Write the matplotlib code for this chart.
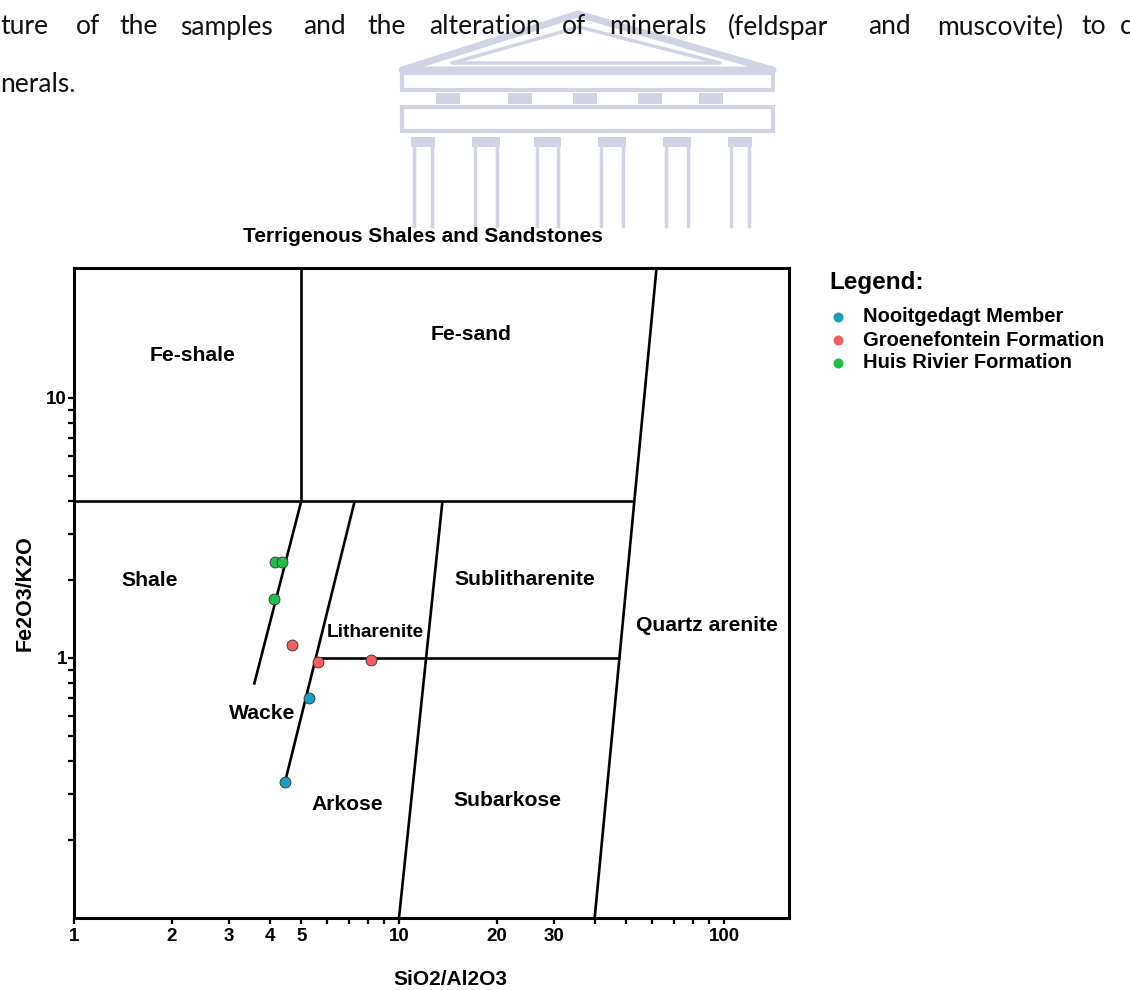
import numpy as np
import matplotlib.pyplot as plt
from matplotlib.lines import Line2D
from matplotlib.patches import Polygon, Rectangle
from matplotlib.ticker import FixedLocator, NullFormatter

# sample ratios: SiO2/Al2O3 (x) against Fe2O3/K2O (y)
nooitgedagt_x = [5.28, 4.46]
nooitgedagt_y = [0.70, 0.333]
groenefontein_x = [4.69, 5.63, 8.2]
groenefontein_y = [1.12, 0.965, 0.98]
huis_rivier_x = [4.15, 4.36, 4.12]
huis_rivier_y = [2.34, 2.35, 1.69]

series = [
    ("Nooitgedagt Member", nooitgedagt_x, nooitgedagt_y, "#1a9dc3"),
    ("Groenefontein Formation", groenefontein_x, groenefontein_y, "#f45d5d"),
    ("Huis Rivier Formation", huis_rivier_x, huis_rivier_y, "#1fbd4b"),
]

# field boundaries of the Herron (1988) classification
boundary_x = [[1, 53], [5, 5], [5, 3.58], [7.3, 4.45], [13.6, 10], [62, 40], [5.53, 47.7]]
boundary_y = [[4, 4], [4, 31.6], [4, 0.79], [4, 0.33], [4, 0.1], [31.6, 0.1], [1, 1]]

field_names = ["Fe-shale", "Fe-sand", "Shale", "Sublitharenite", "Litharenite",
               "Quartz arenite", "Wacke", "Arkose", "Subarkose"]
field_x = [2.31, 16.7, 1.71, 24.3, 8.43, 88.6, 3.79, 6.92, 21.5]
field_y = [14.6, 17.5, 1.98, 2.0, 1.25, 1.33, 0.614, 0.274, 0.282]

x_major = [1, 2, 3, 4, 5, 10, 20, 30, 100]
x_minor = [6, 7, 8, 9, 40, 50, 60, 70, 80, 90]
y_major = [1, 10]
y_minor = [0.2, 0.3, 0.4, 0.5, 0.6, 0.7, 0.8, 0.9, 2, 3, 4, 5, 6, 7, 8, 9]

W, H = 1130, 990
BOLD = dict(family=["Liberation Sans", "DejaVu Sans"], weight="bold")

fig = plt.figure(figsize=(W / 100, H / 100), dpi=100)


def fx(px):
    return px / W


def fy(py):
    return 1 - py / H


# faint building emblem behind the page text
wm = "#cfd3e4"
fig.add_artist(Polygon([(fx(402), fy(70)), (fx(578), fy(14)), (fx(773), fy(70))],
                       closed=True, fill=False, ec=wm, lw=5, joinstyle="round", zorder=0))
fig.add_artist(Polygon([(fx(452), fy(63)), (fx(579), fy(27)), (fx(720), fy(63))],
                       closed=True, fill=False, ec=wm, lw=2.5, joinstyle="round", zorder=0))
fig.add_artist(Rectangle((fx(402), fy(90)), fx(371), 17 / H, fill=False, ec=wm, lw=3, zorder=0))
fig.add_artist(Rectangle((fx(402), fy(131)), fx(371), 24 / H, fill=False, ec=wm, lw=3, zorder=0))
for x0 in [432, 504, 569, 634, 695]:
    fig.add_artist(Rectangle((fx(x0 + 4), fy(104)), fx(24), 11 / H, fc=wm, ec="none", zorder=0))
for x0, x1 in [(414, 432), (475, 497), (537, 558), (601, 623), (666, 688), (731, 749)]:
    fig.add_artist(Rectangle((fx(x0 - 3), fy(147)), fx(x1 - x0 + 6), 10 / H, fc=wm, ec="none", zorder=0))
    for xc in (x0, x1):
        fig.add_artist(Line2D([fx(xc), fx(xc)], [fy(226), fy(147)], color=wm, lw=2.5, zorder=0))

# page text above the figure
page_font = dict(family=["Lato", "DejaVu Sans"], size=19, color="#111111")
words = ["ture", "of", "the", "samples", "and", "the", "alteration", "of", "minerals",
         "(feldspar", "and", "muscovite)", "to", "c"]
word_px = [0, 76, 119, 180, 303, 367, 429, 562, 609, 728, 868, 937, 1081, 1120]
for w, px in zip(words, word_px):
    fig.text(fx(px), fy(27), w, ha="left", va="center", **page_font)
fig.text(fx(0), fy(84), "nerals.", ha="left", va="center", **page_font)

fig.text(fx(423), fy(236), "Terrigenous Shales and Sandstones", ha="center", va="center",
         size=15, **BOLD)

ax = fig.add_axes([fx(74), 1 - 918 / H, 715 / W, 650 / H])
ax.set_xscale("log")
ax.set_yscale("log")
ax.set_xlim(1, 10 ** 2.2)
ax.set_ylim(0.1, 10 ** 1.5)

for bx, by in zip(boundary_x, boundary_y):
    ax.plot(bx, by, color="black", lw=1.9, solid_capstyle="butt", zorder=2)

for name, x, y in zip(field_names, field_x, field_y):
    ax.text(x, y, name, ha="center", va="center", size=13.7 if name == "Litharenite" else 15.2,
            zorder=3, **BOLD)

for label, x, y, c in series:
    ax.scatter(x, y, s=62, color=c, edgecolor="#333333", linewidth=0.6, zorder=4, label=label)

for side in ax.spines.values():
    side.set_linewidth(2.2)

ax.xaxis.set_major_locator(FixedLocator(x_major))
ax.xaxis.set_minor_locator(FixedLocator(x_minor))
ax.yaxis.set_major_locator(FixedLocator(y_major))
ax.yaxis.set_minor_locator(FixedLocator(y_minor))
ax.set_xticklabels([str(v) for v in x_major])
ax.set_yticklabels([str(v) for v in y_major])
ax.xaxis.set_minor_formatter(NullFormatter())
ax.yaxis.set_minor_formatter(NullFormatter())
ax.tick_params(which="both", direction="out", width=1.6, length=4, top=False, right=False)
ax.tick_params(axis="x", pad=3)
ax.tick_params(axis="y", pad=1)
for t in ax.get_xticklabels() + ax.get_yticklabels():
    t.set_fontsize(13.5)
    t.set_fontweight("bold")
    t.set_family(["Liberation Sans", "DejaVu Sans"])

ax.set_xlabel("SiO2/Al2O3", size=15, **BOLD)
ax.xaxis.set_label_coords((450 - 74) / 715, -(970 - 918) / 650)
ax.set_ylabel("Fe2O3/K2O", size=15.5, labelpad=8, **BOLD)

# legend block to the right of the diagram
fig.text(fx(829), fy(283), "Legend:", ha="left", va="center", size=17.5, **BOLD)
for i, (label, x, y, c) in enumerate(series):
    row = 317 + 23 * i
    fig.add_artist(Line2D([fx(838)], [fy(row)], ls="", marker="o", ms=7.2, mfc=c, mec="none"))
    fig.text(fx(863), fy(row), label, ha="left", va="center", size=14.5, **BOLD)

fig.savefig("out.png", dpi=100)
